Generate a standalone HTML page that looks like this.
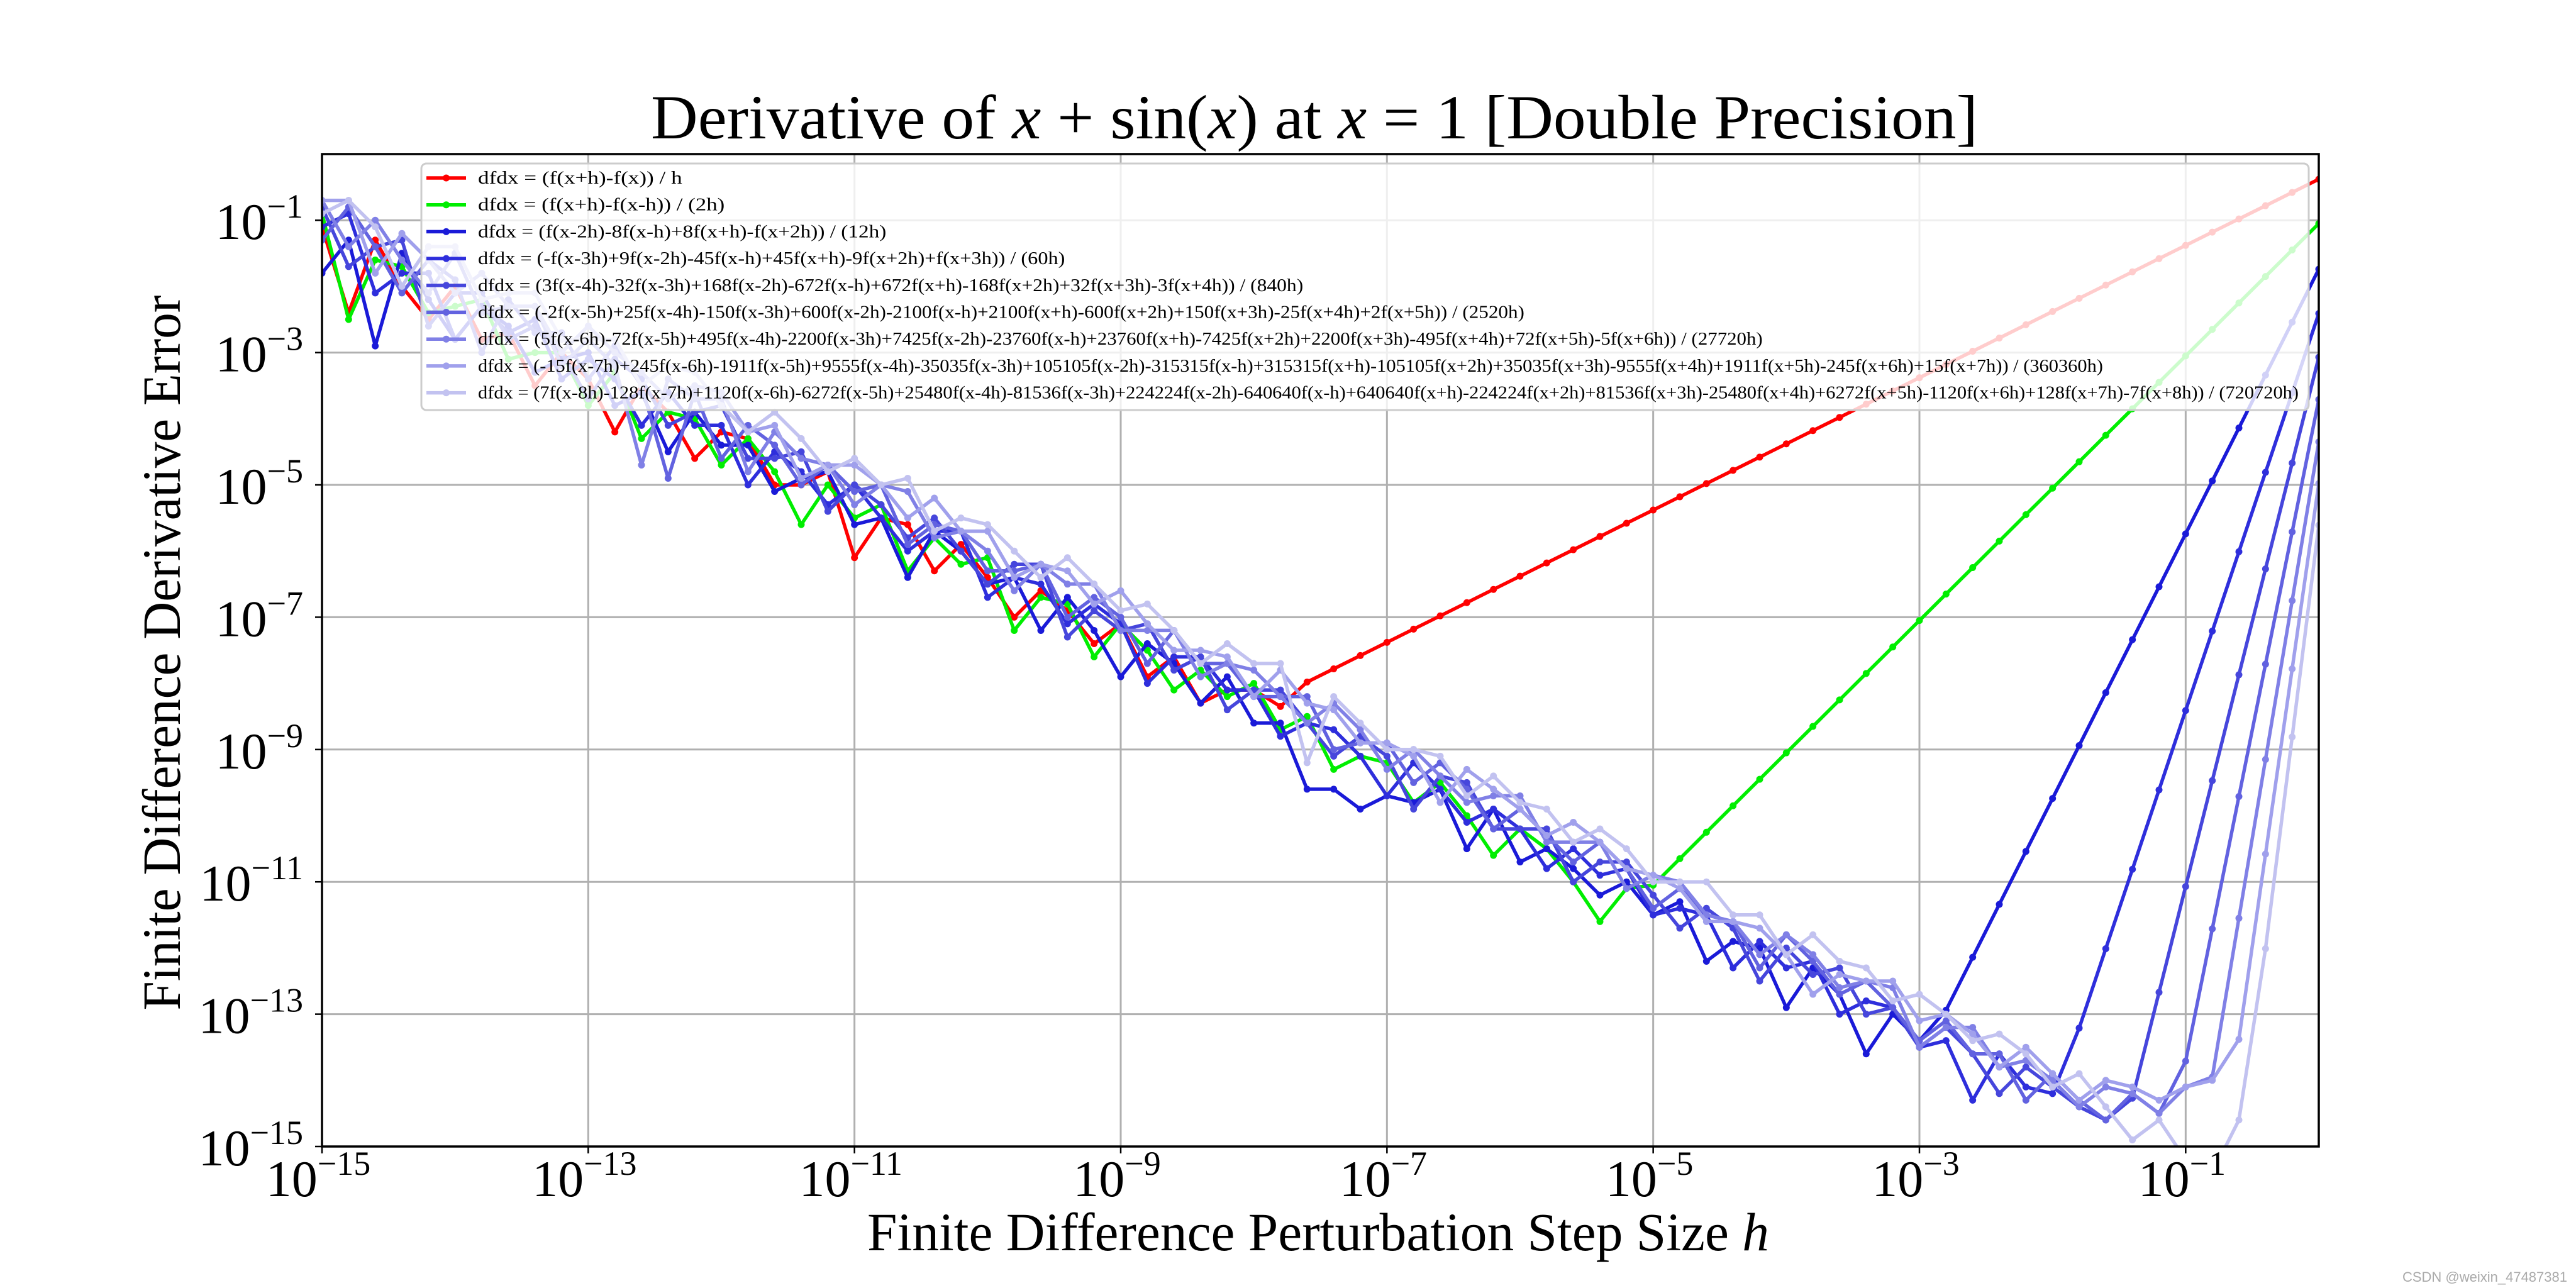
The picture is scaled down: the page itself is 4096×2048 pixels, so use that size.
<!DOCTYPE html>
<html><head><meta charset="utf-8"><title>Finite difference error</title>
<style>
html,body{margin:0;padding:0;background:#fff;}
svg{display:block;font-family:"Liberation Serif","DejaVu Serif",serif;}
</style></head>
<body>
<svg id="chart" width="4096" height="2048" viewBox="0 0 4096 2048" xmlns="http://www.w3.org/2000/svg">
<rect x="0" y="0" width="4096" height="2048" fill="#fff"/>
<text x="2090" y="220" font-size="100" text-anchor="middle" textLength="2110" lengthAdjust="spacingAndGlyphs">Derivative of <tspan font-style="italic">x</tspan> + sin(<tspan font-style="italic">x</tspan>) at <tspan font-style="italic">x</tspan> = 1 [Double Precision]</text>
<text x="2096" y="1988" font-size="86" text-anchor="middle" textLength="1434" lengthAdjust="spacingAndGlyphs">Finite Difference Perturbation Step Size <tspan font-style="italic">h</tspan></text>
<text x="0" y="0" font-size="86" text-anchor="middle" transform="translate(286,1038) rotate(-90)" textLength="1137" lengthAdjust="spacingAndGlyphs">Finite Difference Derivative Error</text>
<g id="grid"></g>
<g id="series"></g>
<g id="legend"></g>
<g id="axes"></g>
<text x="4082" y="2038" font-size="22" fill="#aaa" text-anchor="end" font-family="Liberation Sans, sans-serif">CSDN @weixin_47487381</text>
</svg>
<script>
// step sizes: log10(h)
const logH = [-15.0,-14.8,-14.6,-14.4,-14.2,-14.0,-13.8,-13.6,-13.4,-13.2,-13.0,-12.8,-12.6,-12.4,-12.2,-12.0,-11.8,-11.6,-11.4,-11.2,-11.0,-10.8,-10.6,-10.4,-10.2,-10.0,-9.8,-9.6,-9.4,-9.2,-9.0,-8.8,-8.6,-8.4,-8.2,-8.0,-7.8,-7.6,-7.4,-7.2,-7.0,-6.8,-6.6,-6.4,-6.2,-6.0,-5.8,-5.6,-5.4,-5.2,-5.0,-4.8,-4.6,-4.4,-4.2,-4.0,-3.8,-3.6,-3.4,-3.2,-3.0,-2.8,-2.6,-2.4,-2.2,-2.0,-1.8,-1.6,-1.4,-1.2,-1.0,-0.8,-0.6,-0.4,-0.2,0.0];
const xTicks = [-15,-13,-11,-9,-7,-5,-3,-1];
const yTicks = [-15,-13,-11,-9,-7,-5,-3,-1];
// log10(error) per stencil
const err2pt = [-1.1,-2.4,-1.3,-2.0,-2.5,-2.0,-2.8,-2.7,-3.5,-3.0,-3.4,-4.2,-3.5,-3.9,-4.6,-4.2,-4.3,-5.0,-5.0,-4.8,-6.1,-5.5,-5.6,-6.3,-5.9,-6.4,-7.0,-6.6,-6.9,-7.4,-7.1,-7.9,-7.6,-8.3,-8.1,-8.1,-8.35,-7.98,-7.78,-7.58,-7.38,-7.18,-6.98,-6.78,-6.58,-6.38,-6.18,-5.98,-5.78,-5.58,-5.38,-5.18,-4.98,-4.78,-4.58,-4.38,-4.18,-3.98,-3.78,-3.58,-3.38,-3.18,-2.98,-2.78,-2.58,-2.38,-2.18,-1.98,-1.78,-1.58,-1.38,-1.18,-0.98,-0.78,-0.58,-0.38];
const errCentral = [-0.9,-2.5,-1.6,-1.7,-2.4,-2.3,-2.2,-3.1,-3.0,-3.0,-3.8,-3.3,-4.3,-3.9,-4.0,-4.7,-4.3,-4.8,-5.6,-5.0,-5.5,-5.3,-6.3,-5.8,-6.2,-6.1,-7.2,-6.7,-6.8,-7.6,-7.1,-7.5,-8.1,-7.8,-8.2,-8.0,-8.7,-8.5,-9.3,-9.1,-9.2,-9.8,-9.5,-10.0,-10.6,-10.2,-10.5,-11.0,-11.6,-11.1,-11.05,-10.65,-10.25,-9.85,-9.45,-9.05,-8.65,-8.25,-7.85,-7.45,-7.05,-6.65,-6.25,-5.85,-5.45,-5.05,-4.65,-4.25,-3.85,-3.45,-3.05,-2.65,-2.25,-1.85,-1.45,-1.05];
const err4th = [-1.8,-1.3,-2.9,-1.5,-2.2,-2.8,-2.3,-2.6,-3.3,-3.1,-3.0,-3.8,-3.6,-4.5,-3.9,-4.4,-4.4,-5.1,-4.9,-4.8,-5.6,-5.5,-6.4,-5.7,-6.0,-6.5,-6.4,-7.2,-6.7,-7.2,-7.9,-7.4,-7.7,-8.3,-7.9,-8.6,-8.6,-9.6,-9.6,-9.9,-9.7,-9.8,-9.6,-10.5,-9.9,-10.7,-10.5,-10.8,-11.2,-11.0,-11.5,-11.3,-12.2,-11.9,-12.0,-12.9,-12.3,-12.7,-13.6,-13.0,-13.4,-12.94,-12.14,-11.34,-10.54,-9.74,-8.94,-8.14,-7.34,-6.54,-5.74,-4.94,-4.14,-3.34,-2.54,-1.74];
const err6th = [-1.1,-0.9,-2.1,-1.8,-1.8,-2.8,-2.3,-2.7,-2.5,-3.4,-3.1,-3.4,-4.1,-3.6,-4.1,-4.1,-5.0,-4.5,-4.8,-5.3,-5.0,-5.5,-6.0,-5.7,-5.7,-6.7,-6.4,-6.5,-7.1,-6.8,-7.1,-8.0,-7.6,-7.6,-8.1,-8.1,-8.8,-8.6,-8.7,-9.1,-9.7,-9.2,-9.6,-10.1,-9.9,-10.2,-10.8,-10.5,-10.9,-10.8,-11.5,-11.4,-11.5,-12.3,-11.9,-12.3,-12.2,-13.0,-12.8,-12.9,-13.5,-13.4,-14.3,-13.6,-14.1,-14.2,-13.21,-12.01,-10.81,-9.61,-8.41,-7.21,-6.01,-4.81,-3.61,-2.41];
const err8th = [-0.8,-1.7,-1.4,-1.3,-2.6,-2.1,-2.1,-2.8,-2.6,-3.0,-3.7,-3.1,-3.4,-4.1,-3.9,-3.8,-4.6,-4.6,-4.5,-5.4,-5.0,-5.3,-5.8,-5.5,-6.0,-6.5,-6.2,-6.2,-7.3,-6.9,-7.2,-7.1,-7.8,-7.6,-8.4,-8.1,-8.1,-8.6,-9.1,-8.8,-9.1,-9.9,-9.4,-9.5,-10.2,-10.2,-10.2,-11.0,-10.7,-10.7,-11.2,-11.7,-11.4,-11.7,-12.5,-12.0,-12.4,-12.3,-13.0,-12.9,-13.5,-13.2,-13.6,-14.2,-13.8,-14.1,-14.4,-14.6,-14.27,-12.67,-11.07,-9.47,-7.87,-6.27,-4.67,-3.07];
const err10th = [-1.3,-0.8,-1.4,-2.1,-1.6,-1.9,-3.0,-2.2,-2.7,-2.7,-3.4,-2.9,-3.5,-4.9,-3.6,-4.6,-4.1,-4.4,-5.0,-4.7,-5.1,-5.0,-5.9,-5.6,-5.7,-6.3,-6.3,-6.2,-7.0,-6.7,-7.0,-7.7,-7.2,-7.7,-7.7,-8.2,-8.2,-8.2,-9.0,-8.9,-8.9,-9.5,-9.2,-9.6,-10.2,-9.9,-10.3,-10.7,-10.4,-10.8,-11.4,-11.1,-11.5,-11.6,-12.3,-11.8,-12.2,-12.7,-12.5,-12.9,-13.4,-13.1,-13.6,-13.6,-14.3,-13.9,-14.3,-14.6,-14.2,-14.5,-13.71,-11.71,-9.71,-7.71,-5.71,-3.71];
const err12th = [-0.7,-1.4,-1.0,-1.6,-2.1,-1.5,-2.4,-2.3,-2.3,-3.2,-2.8,-3.2,-4.7,-3.4,-3.7,-3.7,-4.8,-4.2,-4.6,-4.7,-5.3,-5.0,-5.1,-5.8,-5.7,-6.0,-6.6,-6.2,-6.5,-6.5,-7.2,-7.2,-7.2,-7.9,-7.7,-7.8,-8.2,-8.6,-8.3,-8.7,-9.3,-9.0,-9.4,-9.8,-9.7,-9.7,-10.4,-10.4,-10.4,-11.1,-10.9,-11.0,-11.5,-11.6,-12.1,-11.8,-12.1,-12.6,-12.5,-12.6,-13.5,-13.2,-13.2,-13.8,-13.7,-14.0,-14.4,-14.1,-14.2,-14.5,-14.1,-13.95,-11.55,-9.15,-6.75,-4.35];
const err14th = [-0.7,-0.7,-1.8,-1.2,-1.6,-2.1,-1.8,-2.3,-2.3,-3.0,-2.6,-3.0,-3.3,-3.7,-3.5,-3.6,-4.2,-4.1,-4.9,-4.7,-4.7,-5.0,-5.5,-5.2,-5.7,-5.7,-6.4,-6.2,-6.3,-6.8,-6.6,-7.1,-7.5,-7.5,-7.6,-8.2,-7.8,-8.3,-8.4,-8.9,-8.9,-9.1,-9.8,-9.3,-9.6,-9.9,-10.3,-10.1,-10.4,-10.8,-10.9,-11.1,-11.6,-11.6,-11.7,-12.1,-12.7,-12.4,-12.5,-12.5,-13.1,-13.0,-13.3,-13.8,-13.5,-13.9,-14.3,-14.0,-14.1,-14.3,-14.1,-14.0,-13.38,-10.58,-7.78,-4.98];
const err16th = [-0.9,-0.7,-1.1,-2.0,-1.4,-1.4,-2.2,-2.1,-2.1,-2.8,-2.8,-2.8,-3.5,-3.2,-3.3,-3.8,-4.2,-3.9,-4.3,-4.8,-4.6,-5.0,-4.9,-5.7,-5.5,-5.6,-6.0,-6.4,-6.1,-6.5,-6.9,-6.8,-7.2,-7.7,-7.4,-7.7,-7.7,-9.2,-8.2,-8.6,-9.0,-9.0,-9.1,-9.7,-9.4,-9.8,-9.9,-10.4,-10.2,-10.5,-11.0,-11.0,-11.0,-11.5,-11.5,-12.1,-11.8,-12.2,-12.3,-12.8,-12.7,-13.0,-13.4,-13.3,-13.6,-14.1,-13.9,-14.4,-14.9,-14.6,-15.2,-15.4,-14.6,-12.01,-8.81,-5.61];
const seriesData = [err2pt, errCentral, err4th, err6th, err8th, err10th, err12th, err14th, err16th];
const seriesLabels = [
"dfdx = (f(x+h)-f(x)) / h",
"dfdx = (f(x+h)-f(x-h)) / (2h)",
"dfdx = (f(x-2h)-8f(x-h)+8f(x+h)-f(x+2h)) / (12h)",
"dfdx = (-f(x-3h)+9f(x-2h)-45f(x-h)+45f(x+h)-9f(x+2h)+f(x+3h)) / (60h)",
"dfdx = (3f(x-4h)-32f(x-3h)+168f(x-2h)-672f(x-h)+672f(x+h)-168f(x+2h)+32f(x+3h)-3f(x+4h)) / (840h)",
"dfdx = (-2f(x-5h)+25f(x-4h)-150f(x-3h)+600f(x-2h)-2100f(x-h)+2100f(x+h)-600f(x+2h)+150f(x+3h)-25f(x+4h)+2f(x+5h)) / (2520h)",
"dfdx = (5f(x-6h)-72f(x-5h)+495f(x-4h)-2200f(x-3h)+7425f(x-2h)-23760f(x-h)+23760f(x+h)-7425f(x+2h)+2200f(x+3h)-495f(x+4h)+72f(x+5h)-5f(x+6h)) / (27720h)",
"dfdx = (-15f(x-7h)+245f(x-6h)-1911f(x-5h)+9555f(x-4h)-35035f(x-3h)+105105f(x-2h)-315315f(x-h)+315315f(x+h)-105105f(x+2h)+35035f(x+3h)-9555f(x+4h)+1911f(x+5h)-245f(x+6h)+15f(x+7h)) / (360360h)",
"dfdx = (7f(x-8h)-128f(x-7h)+1120f(x-6h)-6272f(x-5h)+25480f(x-4h)-81536f(x-3h)+224224f(x-2h)-640640f(x-h)+640640f(x+h)-224224f(x+2h)+81536f(x+3h)-25480f(x+4h)+6272f(x+5h)-1120f(x+6h)+128f(x+7h)-7f(x+8h)) / (720720h)"
];
const seriesColors = ["#ff0000","#00ee00","#1a1ad8","#2e2edc","#4646dc","#6262e0","#8080e6","#a0a0ec","#c2c2f0"];

const NS = "http://www.w3.org/2000/svg";
const L = 512, R = 3687, T = 245, B = 1823;
const xMin = -15, xMax = 0, yMin = -15, yMax = 0;
function sx(v){ return L + (v - xMin) / (xMax - xMin) * (R - L); }
function sy(v){ return B - (v - yMin) / (yMax - yMin) * (B - T); }
function mk(tag, attrs, parent){ const e = document.createElementNS(NS, tag); for (const k in attrs) e.setAttribute(k, attrs[k]); parent.appendChild(e); return e; }

const svg = document.getElementById('chart');
const defs = mk('defs', {}, svg);
const cp = mk('clipPath', {id:'plotclip'}, defs);
mk('rect', {x:L, y:T, width:R-L, height:B-T}, cp);

const grid = document.getElementById('grid');
xTicks.forEach(t => {
  const g = mk('line', {x1:sx(t), x2:sx(t), y1:T, y2:B, stroke:'#b0b0b0', 'stroke-width':3}, grid);
  
  
});
yTicks.forEach(t => {
  const g = mk('line', {x1:L, x2:R, y1:sy(t), y2:sy(t), stroke:'#b0b0b0', 'stroke-width':3}, grid);
  
  
});

const sg = document.getElementById('series');
sg.setAttribute('clip-path', 'url(#plotclip)');
seriesData.forEach((vals, i) => {
  const g = mk('g', {}, sg);
  
  
  const pts = vals.map((v, k) => sx(logH[k]).toFixed(1) + ',' + sy(v).toFixed(1)).join(' ');
  const pl = mk('polyline', {points:pts, fill:'none', stroke:seriesColors[i], 'stroke-width':5.5, 'stroke-linejoin':'round'}, g);
  
  
  vals.forEach((v, k) => {
    const c = mk('circle', {cx:sx(logH[k]), cy:sy(v), r:5.5, fill:seriesColors[i]}, g);
    
    
  });
});

// legend
const lg = document.getElementById('legend');
const lbox = mk('rect', {x:670, y:260, width:3001, height:392, rx:8, fill:'#fff', 'fill-opacity':0.8, stroke:'#cccccc', 'stroke-width':3}, lg);


const maxLen = seriesLabels[8].length;
const charW = (3655 - 760) / maxLen;
seriesLabels.forEach((lab, i) => {
  const cy = 283 + i * 42.7;
  const e = mk('g', {}, lg);
  
  
  mk('line', {x1:678, x2:741, y1:cy, y2:cy, stroke:seriesColors[i], 'stroke-width':5.5}, e);
  mk('circle', {cx:709.5, cy:cy, r:5.5, fill:seriesColors[i]}, e);
  const t = mk('text', {x:760, y:cy + 9, 'font-size':28, textLength:(lab.length * charW).toFixed(1), lengthAdjust:'spacingAndGlyphs'}, e);
  t.textContent = lab;
});

// axes frame, ticks, labels
const ax = document.getElementById('axes');
const frame = mk('rect', {x:L, y:T, width:R-L, height:B-T, fill:'none', stroke:'#000', 'stroke-width':3.5}, ax);


function tickLabel(x, y, anchor, t, name){
  const tx = mk('text', {x:x, y:y, 'font-size':82, 'text-anchor':anchor}, ax);
  
  
  const a = mk('tspan', {}, tx);
  a.textContent = '10';
  const b = mk('tspan', {'font-size':54, dy:-34}, tx);
  b.textContent = '\u2212' + Math.abs(t);
}
xTicks.forEach(t => {
  const x = sx(t);
  mk('line', {x1:x, x2:x, y1:B, y2:B + 11, stroke:'#000', 'stroke-width':2.5}, ax);
  tickLabel(x - 6, 1902, 'middle', t, 'x-tick-label');
});
yTicks.forEach(t => {
  const y = sy(t);
  mk('line', {x1:L - 11, x2:L, y1:y, y2:y, stroke:'#000', 'stroke-width':2.5}, ax);
  tickLabel(482, y + 30, 'end', t, 'y-tick-label');
});
</script>
</body></html>
